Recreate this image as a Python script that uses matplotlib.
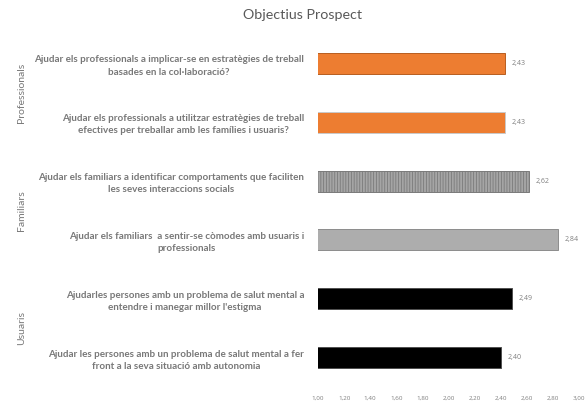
import matplotlib.pyplot as plt
import numpy as np

plt.rcParams['font.family'] = ['Lato', 'DejaVu Sans']
plt.rcParams['hatch.linewidth'] = 0.6

preguntes = [
    "Ajudar els professionals a implicar-se en estratègies de treball\nbasades en la col·laboració?",
    "Ajudar els professionals a utilitzar estratègies de treball\nefectives per treballar amb les famílies i usuaris?",
    "Ajudar els familiars a identificar comportaments que faciliten\nles seves interaccions socials",
    "Ajudar els familiars  a sentir-se còmodes amb usuaris i\nprofessionals",
    "Ajudarles persones amb un problema de salut mental a\nentendre i manegar millor l'estigma",
    "Ajudar les persones amb un problema de salut mental a fer\nfront a la seva situació amb autonomia",
]
valors = [2.43, 2.43, 2.62, 2.84, 2.49, 2.40]
grups = ["Professionals", "Familiars", "Usuaris"]
ticks_x = [1.0, 1.2, 1.4, 1.6, 1.8, 2.0, 2.2, 2.4, 2.6, 2.8, 3.0]

colors = ['#ED7D31', '#ED7D31', '#A5A5A5', '#ADADAD', '#000000', '#000000']
vores = ['#B85E20', '#C9C9C9', '#7A7A7A', '#8C8C8C', '#505050', '#505050']
hatches = [None, None, '||||||', None, None, None]

fig = plt.figure(figsize=(5.87, 4.04), dpi=100)
ax = fig.add_axes([0.5417, 0.0423, 0.4447, 0.8733])

y = np.arange(len(valors))
bars = ax.barh(y, valors, height=0.36, color=colors, edgecolor=vores, linewidth=0.7)
for b, h in zip(bars, hatches):
    if h:
        b.set_hatch(h)

for yi, v in zip(y, valors):
    ax.text(v + 0.05, yi, f"{v:.2f}".replace('.', ','), va='center', ha='left',
            fontsize=5, color='#7F7F7F', family='Open Sans')

ax.set_xlim(1.0, 3.0)
ax.set_ylim(-0.5, len(valors) - 0.5)
ax.invert_yaxis()
ax.set_xticks(ticks_x)
ax.set_xticklabels([f"{t:.2f}".replace('.', ',') for t in ticks_x], fontsize=4.5,
                   color='#7F7F7F', family='Open Sans')
ax.set_yticks(y)
ax.set_yticklabels(preguntes, fontsize=7.1, color='#787878', fontweight='bold')
for lab in ax.get_yticklabels():
    lab.set_multialignment('center')
    lab.set_linespacing(1.45)
ax.tick_params(axis='x', length=0, pad=6)
ax.tick_params(axis='y', length=0, pad=10)
for s in ax.spines.values():
    s.set_visible(False)

trans = ax.get_yaxis_transform()
for i, g in enumerate(grups):
    ax.text(-1.134, 2 * i + 0.5, g, transform=trans, rotation=90, ha='center', va='center',
            fontsize=7.5, color='#787878')

fig.text(0.515, 0.963, "Objectius Prospect", ha='center', va='center', fontsize=10.3, color='#595959')

fig.savefig('out.png', dpi=100)
